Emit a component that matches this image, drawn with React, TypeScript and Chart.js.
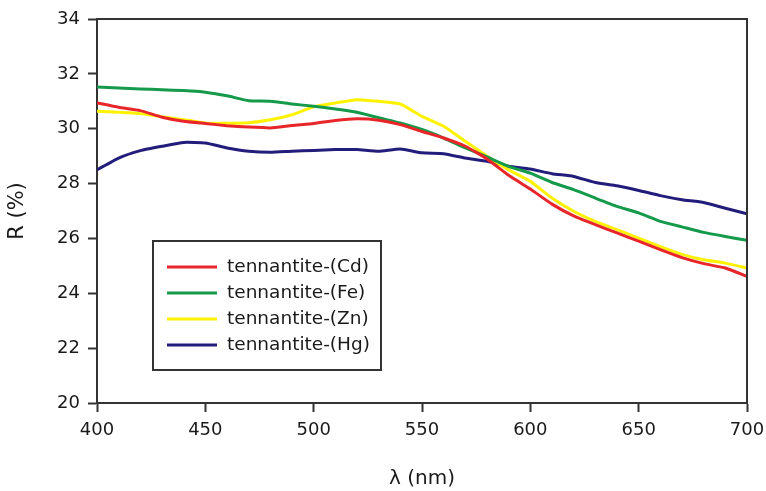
import React, { useEffect, useRef } from "react";
import { Chart, registerables } from "chart.js";

Chart.register(...registerables);

const wavelengths = [400, 410, 420, 430, 440, 450, 460, 470, 480, 490, 500, 510, 520, 530, 540, 550, 560, 570, 580, 590, 600, 610, 620, 630, 640, 650, 660, 670, 680, 690, 700];

const cdValues = [30.94, 30.78, 30.66, 30.42, 30.27, 30.19, 30.11, 30.06, 30.03, 30.12, 30.19, 30.3, 30.36, 30.31, 30.15, 29.9, 29.66, 29.36, 28.9, 28.3, 27.8, 27.25, 26.82, 26.5, 26.2, 25.9, 25.59, 25.3, 25.08, 24.92, 24.62];
const feValues = [31.52, 31.48, 31.45, 31.42, 31.39, 31.33, 31.2, 31.02, 31.0, 30.9, 30.82, 30.72, 30.6, 30.4, 30.21, 29.97, 29.66, 29.3, 28.97, 28.63, 28.38, 28.04, 27.78, 27.47, 27.17, 26.93, 26.62, 26.42, 26.22, 26.07, 25.93];
const znValues = [30.64, 30.6, 30.55, 30.44, 30.33, 30.21, 30.2, 30.22, 30.33, 30.51, 30.8, 30.94, 31.06, 31.0, 30.9, 30.45, 30.09, 29.54, 29.0, 28.5, 28.08, 27.47, 26.99, 26.62, 26.32, 26.01, 25.7, 25.42, 25.22, 25.1, 24.92];
const hgValues = [28.5, 28.93, 29.2, 29.36, 29.5, 29.48, 29.3, 29.18, 29.14, 29.18, 29.21, 29.24, 29.24, 29.18, 29.26, 29.12, 29.09, 28.93, 28.81, 28.63, 28.53, 28.36, 28.26, 28.04, 27.92, 27.75, 27.56, 27.41, 27.31, 27.1, 26.9];

const seriesLabels = ["tennantite-(Cd)", "tennantite-(Fe)", "tennantite-(Zn)", "tennantite-(Hg)"];
const seriesColors = ["#e8262a", "#15994a", "#fff200", "#221c7a"];
const seriesValues = [cdValues, feValues, znValues, hgValues];

const xTitle = "λ (nm)";
const yTitle = "R (%)";

const FONT = "'DejaVu Sans', sans-serif";
const AXIS = "#333333";
const TEXT = "#1a1a1a";

const framePlugin = {
  id: "frame",
  afterDatasetsDraw(chart: any) {
    const { ctx, chartArea } = chart;
    ctx.save();
    ctx.strokeStyle = AXIS;
    ctx.lineWidth = 2;
    ctx.beginPath();
    ctx.moveTo(chartArea.left, chartArea.top);
    ctx.lineTo(chartArea.right, chartArea.top);
    ctx.lineTo(chartArea.right, chartArea.bottom);
    ctx.stroke();
    ctx.restore();
  },
};

const legendPlugin = {
  id: "boxLegend",
  afterDraw(chart: any) {
    const { ctx, chartArea } = chart;
    const bx = chartArea.left + 56;
    const by = chartArea.top + 222;
    const bw = 228;
    const bh = 129;
    ctx.save();
    ctx.fillStyle = "#ffffff";
    ctx.fillRect(bx, by, bw, bh);
    ctx.strokeStyle = AXIS;
    ctx.lineWidth = 2;
    ctx.strokeRect(bx, by, bw, bh);
    ctx.font = `18.5px ${FONT}`;
    ctx.textBaseline = "middle";
    ctx.textAlign = "left";
    chart.data.datasets.forEach((ds: any, i: number) => {
      const y = by + 26 + i * 26;
      ctx.strokeStyle = ds.borderColor;
      ctx.lineWidth = 3;
      ctx.beginPath();
      ctx.moveTo(bx + 14, y);
      ctx.lineTo(bx + 64, y);
      ctx.stroke();
      ctx.fillStyle = TEXT;
      ctx.fillText(ds.label, bx + 74, y);
    });
    ctx.restore();
  },
};

export default function App() {
  const canvasRef = useRef<HTMLCanvasElement | null>(null);

  useEffect(() => {
    if (!canvasRef.current) return;
    const chart = new Chart(canvasRef.current, {
      type: "line",
      data: {
        datasets: seriesValues.map((vals, i) => ({
          label: seriesLabels[i],
          data: wavelengths.map((w, j) => ({ x: w, y: vals[j] })),
          borderColor: seriesColors[i],
          backgroundColor: seriesColors[i],
          borderWidth: 3,
          pointRadius: 0,
          tension: 0.15,
          fill: false,
        })),
      },
      options: {
        animation: false,
        responsive: false,
        maintainAspectRatio: false,
        layout: { padding: { top: 19, right: 19, left: 0, bottom: 0 } },
        plugins: {
          legend: { display: false },
          tooltip: { enabled: false },
        },
        scales: {
          x: {
            type: "linear",
            min: 400,
            max: 700,
            afterFit: (s: any) => {
              s.height = 88;
              s.paddingRight = 0;
              s.paddingLeft = 0;
            },
            ticks: {
              stepSize: 50,
              color: TEXT,
              font: { family: FONT, size: 18 },
              padding: 8,
              maxRotation: 0,
            },
            grid: {
              drawOnChartArea: false,
              drawTicks: true,
              tickLength: 9,
              tickWidth: 2,
              tickColor: AXIS,
            },
            border: { display: true, color: AXIS, width: 2 },
            title: {
              display: true,
              text: xTitle,
              color: TEXT,
              font: { family: FONT, size: 20 },
              padding: { top: 0, bottom: 0 },
            },
          },
          y: {
            type: "linear",
            min: 20,
            max: 34,
            afterFit: (s: any) => {
              s.width = 97;
              s.paddingTop = 0;
              s.paddingBottom = 0;
            },
            ticks: {
              stepSize: 2,
              color: TEXT,
              font: { family: FONT, size: 18 },
              padding: 8,
            },
            grid: {
              drawOnChartArea: false,
              drawTicks: true,
              tickLength: 9,
              tickWidth: 2,
              tickColor: AXIS,
            },
            border: { display: true, color: AXIS, width: 2 },
            title: {
              display: true,
              text: yTitle,
              color: TEXT,
              font: { family: FONT, size: 21 },
              padding: { top: 5, bottom: 0 },
            },
          },
        },
      },
      plugins: [framePlugin, legendPlugin],
    });
    return () => chart.destroy();
  }, []);

  return (
    <div style={{ position: "fixed", left: 0, top: 0, width: 766, height: 491, background: "#ffffff" }}>
      <canvas ref={canvasRef} width={766} height={491} style={{ width: 766, height: 491, display: "block" }} />
    </div>
  );
}
